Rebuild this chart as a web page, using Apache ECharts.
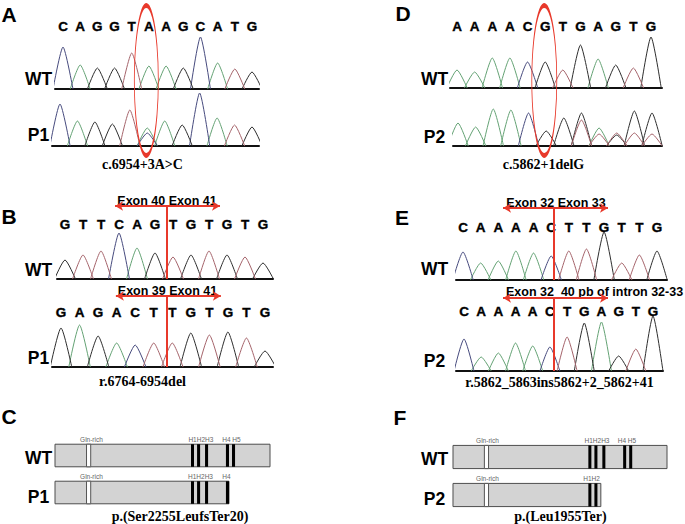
<!DOCTYPE html>
<html>
<head>
<meta charset="utf-8">
<script src="https://cdn.jsdelivr.net/npm/echarts@6/dist/echarts.min.js"></script>
<style>
  html, body { margin: 0; padding: 0; background: #fff; }
  #chart { width: 685px; height: 524px; }
</style>
</head>
<body>
<div id="chart"></div>
<script>
// colours of the four base traces
const baseColors = { A: '#64a274', C: '#474b7e', G: '#2e2e2e', T: '#a5646b' };

// A: c.6954+3A>C (peak heights above baseline)
const seqA = ['C', 'A', 'G', 'G', 'T', 'A', 'A', 'G', 'C', 'A', 'T', 'G'];
const wtA = [42, 24, 21, 21, 36, 23, 23, 21, 52, 26, 20, 17];
const p1A = [42, 25, 24, 22, 36, 18, 25, 21, 53, 28, 21, 19];
const p1AExtraCalls = ['', '', '', '', '', 'C', '', '', '', '', '', ''];
const p1AExtra = [0, 0, 0, 0, 0, 13, 0, 0, 0, 0, 0, 0];

// D: c.5862+1delG
const seqD = ['A', 'A', 'A', 'A', 'C', 'G', 'T', 'G', 'A', 'G', 'T', 'G'];
const wtD = [18, 16, 30, 30, 26, 26, 18, 43, 29, 23, 20, 51];
const p2DCalls = ['A', 'A', 'A', 'A', 'C', 'G', 'G', 'G', 'A', 'T', 'G', 'G'];
const p2D = [23, 19, 37, 36, 33, 15, 28, 33, 18, 13, 35, 33];
const p2DExtraCalls = ['', '', '', '', '', '', '', 'T', 'T', 'G', 'T', 'T'];
const p2DExtra = [0, 0, 0, 0, 0, 0, 0, 26, 12, 11, 13, 12];

// B: r.6764-6954del
const seqBwt = ['G', 'T', 'T', 'C', 'A', 'G', 'T', 'G', 'T', 'G', 'T', 'G'];
const wtB = [19, 24, 28, 46, 31, 26, 22, 24, 28, 24, 22, 16];
const seqBp1 = ['G', 'A', 'G', 'A', 'C', 'T', 'T', 'G', 'T', 'G', 'T', 'G'];
const p1B = [39, 42, 31, 24, 22, 24, 24, 34, 32, 35, 29, 16];

// E: r.5862_5863ins5862+2_5862+41
const seqEwt = ['C', 'A', 'A', 'A', 'A', 'C', 'T', 'T', 'G', 'T', 'T', 'G'];
const wtE = [28, 17, 19, 29, 27, 24, 29, 31, 48, 17, 25, 29];
const seqEp2 = ['C', 'A', 'A', 'A', 'A', 'C', 'T', 'G', 'A', 'G', 'T', 'G'];
const p2E = [32, 14, 18, 28, 25, 24, 34, 48, 49, 15, 22, 55];

// C / F: protein schemes (residues)
const rowsC = ['WT', 'P1'];
const lenC = [2830, 2290];
const rowsF = ['WT', 'P2'];
const lenF = [2830, 1955];
const glnRich = [415, 470];
const helixStart = [1790, 1870, 1975, 2250, 2330];
const helixEnd = [1830, 1910, 2015, 2290, 2370];
const domainLabelsC = [
  [['Gln-rich', 480], ['H1H2H3', 1920], ['H4 H5', 2322]],
  [['Gln-rich', 480], ['H1H2H3', 1915], ['H4', 2256]]
];
const domainLabelsF = [
  [['Gln-rich', 456], ['H1H2H3', 1904], ['H4 H5', 2300]],
  [['Gln-rich', 456], ['H1H2', 1832]]
];

const RED = '#e8392b';
const W = 0.58; // half width of a peak, in bases
const SANS = '"Liberation Sans", Arial, sans-serif';
const SERIF = '"Liberation Serif", "Times New Roman", serif';

const traces = [
  { calls: seqA, h: wtA, letters: seqA, l: 55, r: 259, x0: 63, x11: 252, base: 89, top: 16, letterY: 26,
    ellipse: [4.85, 8.5, 24, 150] },
  { calls: seqA, h: p1A, extraCalls: p1AExtraCalls, extra: p1AExtra, l: 52, r: 259, x0: 60, x11: 252, base: 146, top: 88 },
  { calls: seqD, h: wtD, letters: seqD, l: 450, r: 662, x0: 457, x11: 651, base: 88, top: 16, letterY: 26,
    ellipse: [4.95, 7.5, 25, 150] },
  { calls: p2DCalls, h: p2D, extraCalls: p2DExtraCalls, extra: p2DExtra, l: 453, r: 662, x0: 458, x11: 652, base: 146, top: 100 },
  { calls: seqBwt, h: wtB, letters: seqBwt, l: 57, r: 273, x0: 65, x11: 263, base: 279, top: 206, letterY: 224,
    arrow: [2.78, 8.61], junction: 5.67 },
  { calls: seqBp1, h: p1B, letters: seqBp1, l: 52, r: 273, x0: 61, x11: 265, base: 367, top: 296, letterY: 312,
    arrow: [2.96, 8.62], junction: 5.71 },
  { calls: seqEwt, h: wtE, letters: seqEwt, l: 456, r: 667, x0: 463, x11: 657, base: 280, top: 208, letterY: 227,
    arrow: [2.27, 8.22], junction: 5.16 },
  { calls: seqEp2, h: p2E, letters: seqEp2, l: 456, r: 663, x0: 464, x11: 653, base: 371, top: 298, letterY: 311,
    arrow: [2.27, 8.38], junction: 5.24 }
];

const grid = [], xAxis = [], yAxis = [], series = [];
const graphic = [];

traces.forEach((t, k) => {
  const dx = (t.x11 - t.x0) / 11;
  const ymax = t.base - t.top;
  grid.push({ left: t.l, top: t.top, width: t.r - t.l, height: ymax });
  xAxis.push({
    type: 'value', gridIndex: k, min: (t.l - t.x0) / dx, max: (t.r - t.x0) / dx,
    axisLine: { show: true, onZero: false, lineStyle: { color: '#111', width: 2 } },
    axisTick: { show: false }, axisLabel: { show: false }, splitLine: { show: false }
  });
  yAxis.push({ type: 'value', gridIndex: k, min: 0, max: ymax, show: false });

  ['A', 'C', 'G', 'T'].forEach(b => {
    const pts = [];
    const add = (calls, hs) => calls.forEach((c, i) => {
      if (c === b && hs[i] > 0) pts.push([i - W, 0], [i, hs[i]], [i + W, 0], [i + W, '-']);
    });
    add(t.calls, t.h);
    if (t.extraCalls) add(t.extraCalls, t.extra);
    series.push({
      type: 'line', xAxisIndex: k, yAxisIndex: k, data: pts, smooth: 0.22,
      showSymbol: false, silent: true, animation: false,
      lineStyle: { color: baseColors[b], width: 1 }
    });
  });

  if (t.letters) {
    const letters = t.letters;
    const s = {
      type: 'custom', xAxisIndex: k, yAxisIndex: k, clip: false, silent: true, animation: false,
      data: letters.map((c, i) => [i, t.base - t.letterY]),
      renderItem: (params, api) => {
        const p = api.coord([api.value(0), api.value(1)]);
        return {
          type: 'text', x: p[0], y: p[1],
          style: {
            text: letters[params.dataIndex], fill: '#000', stroke: '#000', lineWidth: 0.35,
            font: 'bold 13.5px ' + SANS, textAlign: 'center', textVerticalAlign: 'middle'
          }
        };
      }
    };
    if (t.ellipse) {
      s.markPoint = {
        silent: true, animation: false, symbol: 'circle',
        symbolSize: [t.ellipse[2], t.ellipse[3]], label: { show: false },
        itemStyle: { color: 'transparent', borderColor: RED, borderWidth: 2 },
        data: [{ coord: [t.ellipse[0], t.ellipse[1]] }]
      };
    }
    if (t.arrow) {
      s.markLine = {
        silent: true, animation: false, label: { show: false }, symbolSize: [7, 8],
        lineStyle: { color: RED, width: 2, type: 'solid' },
        emphasis: { disabled: true },
        data: [
          [{ coord: [t.arrow[0], ymax], symbol: 'arrow' }, { coord: [t.arrow[1], ymax], symbol: 'arrow' }],
          [{ coord: [t.junction, ymax], symbol: 'none' }, { coord: [t.junction, 0], symbol: 'none' }]
        ]
      };
    }
    series.push(s);
  }
});

// protein schemes
function proteinItems(lens) {
  const items = [];
  lens.forEach((len, row) => {
    items.push([0, len, row, 0]);
    items.push([glnRich[0], glnRich[1], row, 1]);
    helixStart.forEach((s, j) => {
      if (s < len) items.push([s, Math.min(helixEnd[j], len), row, 2]);
    });
  });
  return items;
}

function renderProtein(params, api) {
  const row = api.value(2);
  const kind = api.value(3);
  const a = api.coord([api.value(0), row]);
  const b = api.coord([api.value(1), row]);
  const bh = api.size([0, 1])[1] * 0.61;
  let style;
  if (kind === 0) style = { fill: '#d3d3d3', stroke: '#4d4d4d', lineWidth: 1 };
  else if (kind === 1) style = { fill: '#fff', stroke: '#555', lineWidth: 1 };
  else style = { fill: '#000' };
  return { type: 'rect', shape: { x: a[0], y: a[1] - bh / 2, width: b[0] - a[0], height: bh }, style };
}

const proteinPanels = [
  { rows: rowsC, lens: lenC, labels: domainLabelsC, left: 55, top: 437, width: 215, height: 74 },
  { rows: rowsF, lens: lenF, labels: domainLabelsF, left: 453, top: 438, width: 214, height: 76 }
];

proteinPanels.forEach(p => {
  const k = grid.length;
  grid.push({ left: p.left, top: p.top, width: p.width, height: p.height });
  xAxis.push({ type: 'value', gridIndex: k, min: 0, max: lenC[0], show: false });
  yAxis.push({ type: 'category', gridIndex: k, data: p.rows, inverse: true, show: false });
  series.push({
    type: 'custom', xAxisIndex: k, yAxisIndex: k, silent: true, animation: false,
    renderItem: renderProtein, encode: { x: [0, 1], y: 2 }, data: proteinItems(p.lens)
  });
  const bandHalf = p.height / p.rows.length * 0.61 / 2;
  const names = [], pos = [];
  p.labels.forEach((row, r) => row.forEach(([txt, x]) => { names.push(txt); pos.push([x, r]); }));
  series.push({
    type: 'custom', xAxisIndex: k, yAxisIndex: k, silent: true, animation: false, clip: false,
    data: pos,
    renderItem: (params, api) => {
      const c = api.coord([api.value(0), api.value(1)]);
      return {
        type: 'text', x: c[0], y: c[1] - bandHalf - 4.5,
        style: {
          text: names[params.dataIndex], fill: '#666', font: '6.5px ' + SANS,
          textAlign: 'center', textVerticalAlign: 'middle'
        }
      };
    }
  });
});

// texts
function text(str, x, y, font, align) {
  graphic.push({
    type: 'text', x, y, silent: true,
    style: { text: str, font, fill: '#000', textAlign: align || 'center', textVerticalAlign: 'middle' }
  });
}
const panelFont = 'bold 21px ' + SANS;
text('A', 9, 14, panelFont);
text('B', 9, 216, panelFont);
text('C', 9, 416, panelFont);
text('D', 403, 13, panelFont);
text('E', 402, 217, panelFont);
text('F', 400, 417, panelFont);

const rowFont = 'bold 17.5px ' + SANS;
text('WT', 38.5, 79, rowFont);
text('P1', 38.5, 135, rowFont);
text('WT', 434.5, 79, rowFont);
text('P2', 434.5, 137, rowFont);
text('WT', 38.5, 270, rowFont);
text('P1', 38.5, 358, rowFont);
text('WT', 434.5, 269, rowFont);
text('P2', 434.5, 361, rowFont);
text(rowsC[0], 38.5, 458, rowFont);
text(rowsC[1], 38.5, 497, rowFont);
text(rowsF[0], 434.5, 459, rowFont);
text(rowsF[1], 434.5, 499, rowFont);

const headFont = 'bold 12.5px ' + SANS;
text('Exon 40 Exon 41', 167, 201, headFont);
text('Exon 39 Exon 41', 167.5, 291, headFont);
text('Exon 32 Exon 33', 556, 203, headFont);
text('Exon 32  40 pb of intron 32-33', 506, 292, headFont, 'left');

const capFont = 'bold 14px ' + SERIF;
text('c.6954+3A>C', 142.5, 164, capFont);
text('c.5862+1delG', 543.5, 164, capFont);
text('r.6764-6954del', 142.5, 381, capFont);
text('r.5862_5863ins5862+2_5862+41', 559.5, 382, capFont);
text('p.(Ser2255LeufsTer20)', 180, 516, capFont);
text('p.(Leu1955Ter)', 560.5, 516, capFont);

const chart = echarts.init(document.getElementById('chart'), null, { renderer: 'svg' });
chart.setOption({
  animation: false,
  backgroundColor: '#fff',
  grid, xAxis, yAxis, series, graphic
});
</script>
</body>
</html>
